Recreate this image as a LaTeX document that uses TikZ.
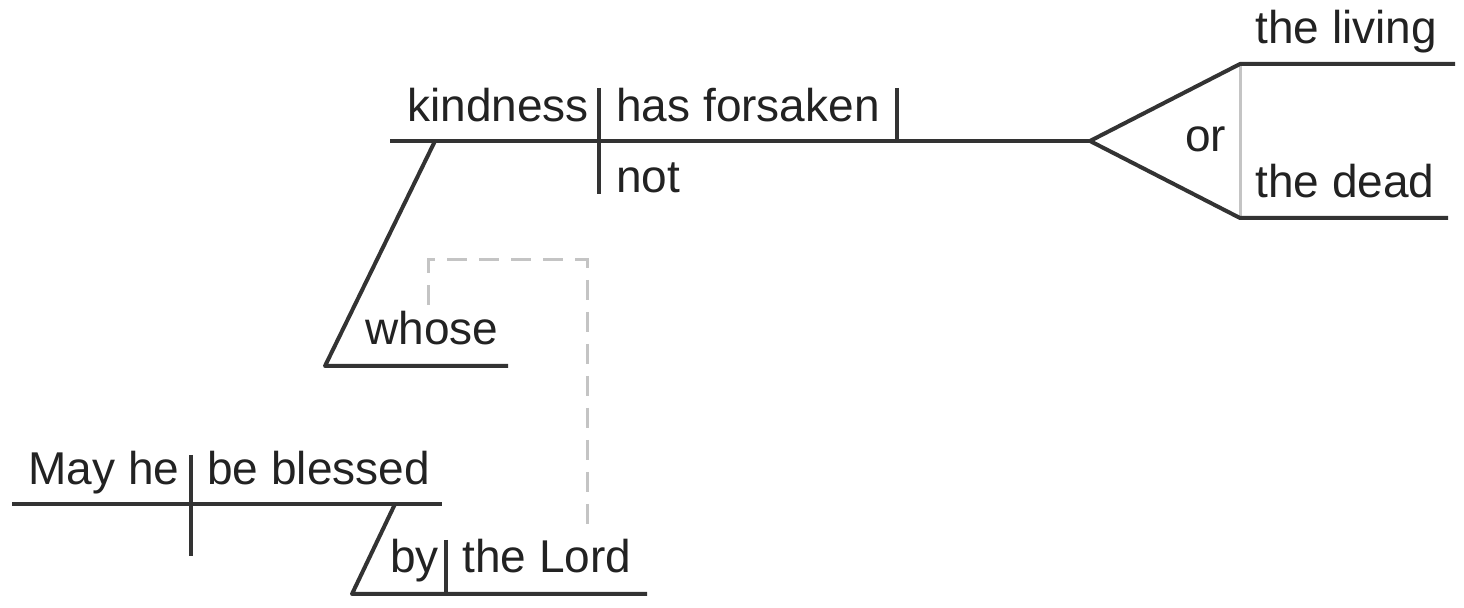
\documentclass[tikz,border=0pt]{standalone}
\usepackage{fontspec}
\setmainfont{Liberation Sans}
\definecolor{lineC}{HTML}{333333}
\definecolor{grayC}{HTML}{C4C4C4}
\definecolor{textC}{HTML}{222222}
\begin{document}
\begin{tikzpicture}[x=0.5pt,y=-0.5pt,
  ln/.style={line width=2pt, draw=lineC, line join=round},
  gl/.style={line width=1.5pt, draw=grayC},
  dl/.style={line width=1.5pt, draw=grayC, dash pattern=on 10pt off 6pt},
  word/.style={anchor=base west, inner sep=0pt, text=textC, font=\fontsize{23}{23}\selectfont}]
\useasboundingbox (0,0) rectangle (1464,608);
% coordinates
\coordinate (mL) at (390,141);
\coordinate (mR) at (1090,141);
\coordinate (sv1) at (599,88); \coordinate (sv2) at (599,194);
\coordinate (vo1) at (897,88); \coordinate (vo2) at (897,141);
\coordinate (kslT) at (435,141); \coordinate (kslB) at (325,366); \coordinate (whR) at (508,366);
\coordinate (fT) at (1240,64); \coordinate (fB) at (1240,218);
\coordinate (fTR) at (1455,64); \coordinate (fBR) at (1448,218);
\coordinate (d1) at (428,305); \coordinate (d2) at (428,260);
\coordinate (d3) at (587,260); \coordinate (d4) at (587,530);
\coordinate (bL) at (12,504); \coordinate (bR) at (442,504);
\coordinate (bd1) at (191,455); \coordinate (bd2) at (191,556);
\coordinate (bsT) at (395,504); \coordinate (bsB) at (352,594);
\coordinate (bbR) at (647,594);
\coordinate (bbd1) at (446,540); \coordinate (bbd2) at (446,594);
% lines
\draw[ln] (mL) -- (mR);
\draw[ln] (sv1) -- (sv2);
\draw[ln] (vo1) -- (vo2);
\draw[ln] (kslT) -- (kslB) -- (whR);
\draw[gl] (fT) -- (fB);
\draw[ln] (fTR) -- (fT) -- (mR) -- (fB) -- (fBR);
\draw[dl] (d1) -- (d2) -- (d3) -- (d4);
\draw[ln] (bL) -- (bR);
\draw[ln] (bd1) -- (bd2);
\draw[ln] (bsT) -- (bsB) -- (bbR);
\draw[ln] (bbd1) -- (bbd2);
% words
\node[word] (kindness) at (407,122) {kindness};
\node[word] (hasforsaken) at (616,122) {has forsaken};
\node[word] (not) at (616,193) {not};
\node[word] (or) at (1185,152) {or};
\node[word] (living) at (1255,44) {the living};
\node[word] (dead) at (1255,198) {the dead};
\node[word] (whose) at (365,345) {whose};
\node[word] (mayhe) at (28,485) {May he};
\node[word] (blessed) at (207,485) {be blessed};
\node[word] (by) at (390,573) {by};
\node[word] (lord) at (462,573) {the Lord};
\end{tikzpicture}
\end{document}
